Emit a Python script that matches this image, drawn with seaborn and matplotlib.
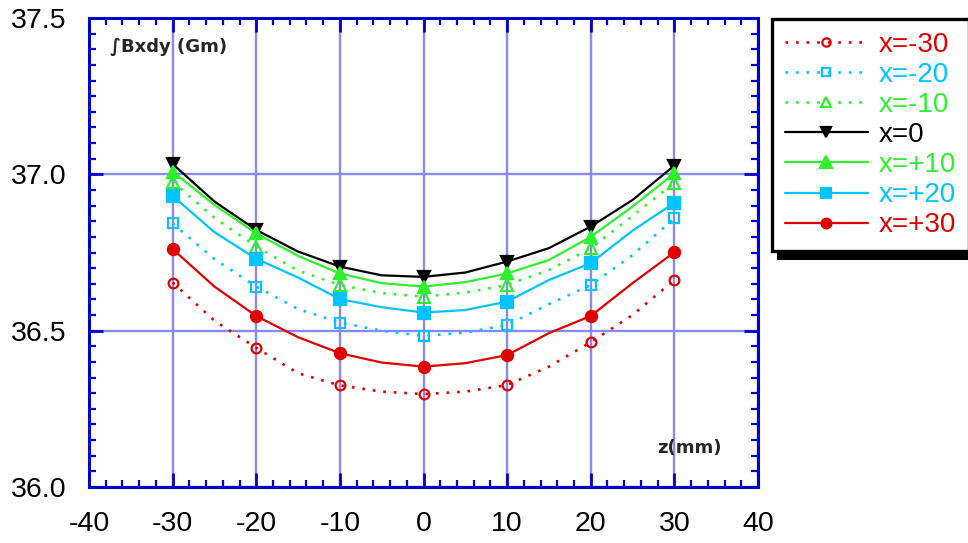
import numpy as np
import pandas as pd
import seaborn as sns
import matplotlib
matplotlib.use("Agg")
import matplotlib.pyplot as plt
from matplotlib.lines import Line2D
from matplotlib.patches import Rectangle
from matplotlib.ticker import MultipleLocator, FormatStrFormatter

# ---------------- data ----------------
z_mm = [-30, -25, -20, -15, -10, -5, 0, 5, 10, 15, 20, 25, 30]

x_m30 = [36.654, 36.532, 36.445, 36.364, 36.325, 36.305, 36.297, 36.305, 36.326, 36.385, 36.463, 36.550, 36.662]
x_m20 = [36.843, 36.729, 36.641, 36.569, 36.526, 36.500, 36.483, 36.494, 36.518, 36.585, 36.646, 36.742, 36.859]
x_m10 = [36.977, 36.861, 36.769, 36.692, 36.646, 36.620, 36.609, 36.622, 36.646, 36.694, 36.763, 36.867, 36.973]
x_0   = [37.033, 36.913, 36.822, 36.753, 36.705, 36.677, 36.672, 36.686, 36.721, 36.764, 36.833, 36.918, 37.028]
x_p10 = [37.009, 36.902, 36.811, 36.739, 36.683, 36.652, 36.641, 36.655, 36.683, 36.726, 36.800, 36.897, 37.003]
x_p20 = [36.931, 36.815, 36.730, 36.670, 36.601, 36.575, 36.558, 36.566, 36.593, 36.662, 36.716, 36.820, 36.909]
x_p30 = [36.761, 36.641, 36.547, 36.479, 36.428, 36.398, 36.385, 36.396, 36.422, 36.492, 36.547, 36.652, 36.751]

labels = ["x=-30", "x=-20", "x=-10", "x=0", "x=+10", "x=+20", "x=+30"]
series = [x_m30, x_m20, x_m10, x_0, x_p10, x_p20, x_p30]

x_ticks = [-40, -30, -20, -10, 0, 10, 20, 30, 40]
y_ticks = [36.0, 36.5, 37.0, 37.5]

# ---------------- styles ----------------
RED = "#E00000"
CYAN = "#00C4FF"
GREEN = "#2EF02E"
BLACK = "#000000"
DOT = (0, (1, 3))
styles = [
    dict(color=RED, ls=DOT, marker="o", mfc="none", ms=7),
    dict(color=CYAN, ls=DOT, marker="s", mfc="none", ms=7),
    dict(color=GREEN, ls=DOT, marker="^", mfc="none", ms=8),
    dict(color=BLACK, ls="-", marker="v", mfc=BLACK, ms=8),
    dict(color=GREEN, ls="-", marker="^", mfc=GREEN, ms=9),
    dict(color=CYAN, ls="-", marker="s", mfc=CYAN, ms=8),
    dict(color=RED, ls="-", marker="o", mfc=RED, ms=8),
]

sns.set_style("white")
plt.rcParams["font.family"] = ["Liberation Sans", "DejaVu Sans"]
plt.rcParams["axes.unicode_minus"] = False

fig = plt.figure(figsize=(9.68, 5.43), dpi=100)
ax = fig.add_axes([89 / 968, 1 - 487 / 543, (758 - 89) / 968, (487 - 18) / 543])

for vals, st in zip(series, styles):
    dotted = st["ls"] != "-"
    sns.lineplot(x=z_mm, y=vals, ax=ax, color=st["color"], linestyle=st["ls"],
                 linewidth=1.9 if dotted else 1.6,
                 marker=st["marker"], markevery=2, markersize=st["ms"],
                 markerfacecolor=st["mfc"], markeredgecolor=st["color"],
                 markeredgewidth=1.6, legend=False, sort=False)

ax.set_xlim(-40, 40)
ax.set_ylim(36.0, 37.5)
ax.set_xticks(x_ticks)
ax.set_yticks(y_ticks)
ax.xaxis.set_minor_locator(MultipleLocator(2))
ax.yaxis.set_minor_locator(MultipleLocator(0.05))
ax.yaxis.set_major_formatter(FormatStrFormatter("%.1f"))
ax.set_xlabel("")
ax.set_ylabel("")

SPINE = "#0000CC"
for s in ax.spines.values():
    s.set_visible(True)
    s.set_color(SPINE)
    s.set_linewidth(2.2)
ax.tick_params(axis="both", which="both", direction="in", color=SPINE,
               top=True, right=True, bottom=True, left=True)
ax.tick_params(which="major", length=10, width=2)
ax.tick_params(which="minor", length=5, width=1.6)
ax.tick_params(axis="x", which="major", labelsize=20.5, pad=17, labelcolor="black")
ax.tick_params(axis="y", which="major", labelsize=20.5, pad=16, labelcolor="black")

ax.grid(True, which="major", color="#8A8AEE", linewidth=1.7)
ax.set_axisbelow(True)

ax.text(0.031, 0.938, "∫Bxdy (Gm)", transform=ax.transAxes, fontsize=13,
        fontweight="bold", family="DejaVu Sans", va="center", ha="left")
ax.text(0.849, 0.083, "z(mm)", transform=ax.transAxes, fontsize=13,
        fontweight="bold", family="DejaVu Sans", va="center", ha="left")

handles = []
for st in styles:
    dotted = st["ls"] != "-"
    handles.append(Line2D([], [], color=st["color"], linestyle=st["ls"],
                          linewidth=1.9 if dotted else 1.6,
                          marker=st["marker"], markersize=st["ms"] - 1,
                          markerfacecolor=st["mfc"], markeredgecolor=st["color"],
                          markeredgewidth=1.6))
leg = fig.legend(handles, labels, loc="upper left",
                 bbox_to_anchor=(772 / 968, 1 - 19 / 543),
                 fontsize=20, frameon=True, fancybox=False,
                 handlelength=3.0, handletextpad=0.4, labelspacing=0.15,
                 borderpad=0.45, borderaxespad=0.0, numpoints=1)
frame = leg.get_frame()
frame.set_edgecolor("black")
frame.set_linewidth(2.4)
frame.set_facecolor("white")
frame.set_alpha(1)
for t, st in zip(leg.get_texts(), styles):
    t.set_color(st["color"])

fig.canvas.draw()
bb = leg.get_window_extent()
inv = fig.transFigure.inverted()
(x0, y0) = inv.transform((bb.x0 + 5, bb.y0 - 9))
(x1, y1) = inv.transform((bb.x1 + 5, bb.y1 - 9))
shadow = Rectangle((x0, y0), x1 - x0, y1 - y0, transform=fig.transFigure,
                   facecolor="black", edgecolor="none", zorder=-5)
fig.patches.append(shadow)
leg.set_zorder(10)

fig.savefig("out.png", dpi=100)
